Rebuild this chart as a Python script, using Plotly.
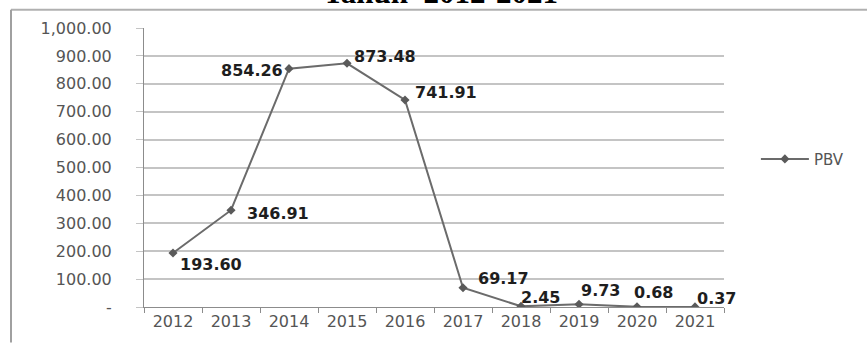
import plotly.graph_objects as go

years = ["2012", "2013", "2014", "2015", "2016", "2017", "2018", "2019", "2020", "2021"]
pbv = [193.60, 346.91, 854.26, 873.48, 741.91, 69.17, 2.45, 9.73, 0.68, 0.37]
y_ticks = [0, 100, 200, 300, 400, 500, 600, 700, 800, 900, 1000]
y_tick_text = ["-", "100.00", "200.00", "300.00", "400.00", "500.00", "600.00",
               "700.00", "800.00", "900.00", "1,000.00"]
title_text = "Tahun  2012-2021"

# label offsets (pixels) - styling only
label_dx = [38, 47, -37, 38, 41, 40, 19, 21, 16, 21]
label_dy = [-12, -3, -2, 7, 8, 9, 9, 14, 14, 8]

fig = go.Figure()
fig.add_trace(go.Scatter(
    x=years, y=pbv, mode="lines+markers", name="PBV",
    line=dict(color="#6b6b6b", width=2),
    marker=dict(symbol="diamond", size=7, color="#5a5a5a"),
))

for i, (v, dx, dy) in enumerate(zip(pbv, label_dx, label_dy)):
    fig.add_annotation(
        x=i, y=v, text=f"<b>{v:.2f}</b>", showarrow=False,
        xshift=dx, yshift=dy,
        font=dict(family="DejaVu Sans", size=16, color="#1e1e1e"),
    )

fig.add_annotation(
    xref="paper", yref="paper", x=0.512, y=1.0,
    yshift=16, xanchor="center", yanchor="bottom",
    text=f"<b>{title_text}</b>", showarrow=False,
    font=dict(family="Liberation Serif", size=31, color="#000000"),
)

# outer frame (top and left edges)
fig.add_shape(type="line", xref="paper", yref="paper",
              x0=(11 - 144) / 580, x1=(870 - 144) / 580,
              y0=(310 - 9.5) / 282, y1=(310 - 9.5) / 282,
              line=dict(color="#b0b0b0", width=2))
fig.add_shape(type="line", xref="paper", yref="paper",
              x0=(11 - 144) / 580, x1=(11 - 144) / 580,
              y0=(310 - 9.5) / 282, y1=(310 - 346) / 282,
              line=dict(color="#a0a0a0", width=2))

fig.update_layout(
    width=867, height=343,
    margin=dict(l=144, r=143, t=28, b=33),
    paper_bgcolor="white", plot_bgcolor="white",
    showlegend=True,
    legend=dict(x=1.055, y=0.53, xanchor="left", yanchor="middle",
                itemwidth=48,
                font=dict(family="DejaVu Sans", size=15, color="#555555"),
                bgcolor="rgba(0,0,0,0)"),
    font=dict(family="DejaVu Sans", color="#595959"),
)
fig.update_xaxes(
    type="category", range=[-0.5, 9.5],
    showgrid=False, showline=True, linecolor="#8c8c8c", linewidth=1,
    ticks="outside", tickson="boundaries", ticklen=5, tickcolor="#8c8c8c",
    tickfont=dict(family="DejaVu Sans", size=16, color="#555555"),
    zeroline=False,
)
fig.update_yaxes(
    range=[0, 1000], tickvals=y_ticks, ticktext=y_tick_text,
    showgrid=True, gridcolor="#c4c4c4", gridwidth=1.5,
    showline=True, linecolor="#8c8c8c", linewidth=1,
    ticks="outside", ticklen=7, tickcolor="#c4c4c4",
    ticklabelstandoff=21,
    tickfont=dict(family="DejaVu Sans", size=16, color="#555555"),
    zeroline=False,
)

fig.write_html("out.html")
